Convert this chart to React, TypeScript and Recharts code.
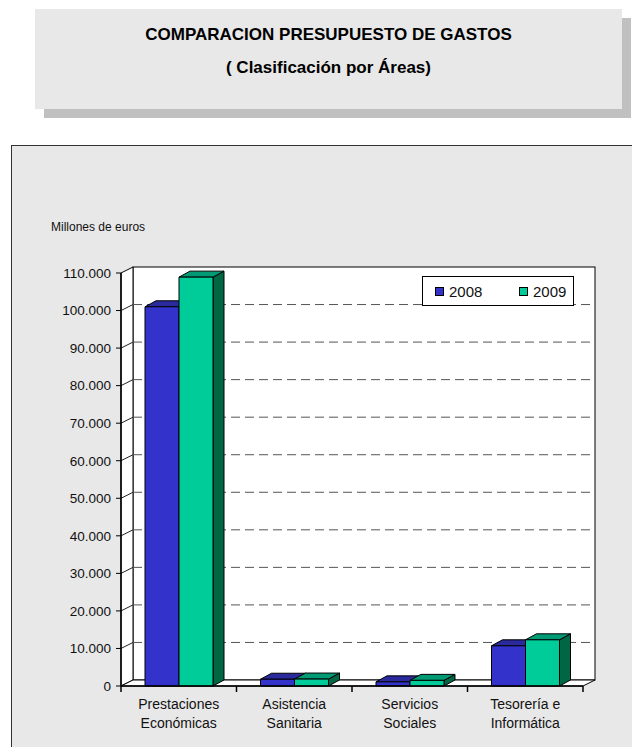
import React from "react";
import { BarChart, Bar, XAxis, YAxis, CartesianGrid } from "recharts";

const categories = ["Prestaciones\nEconómicas", "Asistencia\nSanitaria", "Servicios\nSociales", "Tesorería e\nInformática"];
const values2008 = [101000, 1800, 1100, 10700];
const values2009 = [108900, 1850, 1500, 12300];
const yTicks = [0, 10000, 20000, 30000, 40000, 50000, 60000, 70000, 80000, 90000, 100000, 110000];
const seriesNames = ["2008", "2009"];

const data = categories.map((c, i) => ({ name: c, y2008: values2008[i], y2009: values2009[i] }));

const FONT = "'Liberation Sans', Arial, sans-serif";
const W = 632;
const H = 747;
// front plane of the 3d plot
const PLOT_LEFT = 121;
const PLOT_TOP = 273;
const PLOT_RIGHT = 583;
const PLOT_BOTTOM = 686;
const PLOT_W = PLOT_RIGHT - PLOT_LEFT;
const PLOT_H = PLOT_BOTTOM - PLOT_TOP;
const DX = 12;
const DY = -6;
const Y_AXIS_W = 60;
const X_AXIS_H = 50;

const colors = {
  y2008: { front: "#3333cc", top: "#2a2a9c", side: "#1f1f80" },
  y2009: { front: "#00cc99", top: "#009b74", side: "#006644" },
};

const fmt = (v: number) => String(v).replace(/\B(?=(\d{3})+(?!\d))/g, ".");

const make3DBar = (c: { front: string; top: string; side: string }) => (props: any) => {
  const { x, y, width, height } = props;
  if (x == null || height == null) return null;
  const bx = 11;
  const by = -6;
  return (
    <g stroke="#000" strokeWidth={1} strokeLinejoin="round">
      <polygon
        points={`${x + width},${y} ${x + width + bx},${y + by} ${x + width + bx},${y + height + by} ${x + width},${y + height}`}
        fill={c.side}
      />
      <polygon points={`${x},${y} ${x + bx},${y + by} ${x + width + bx},${y + by} ${x + width},${y}`} fill={c.top} />
      <rect x={x} y={y} width={width} height={height} fill={c.front} />
    </g>
  );
};

const GridLine = (p: any) => {
  const { x1, y1, x2 } = p;
  if (Math.abs(y1 - PLOT_TOP) < 1 || Math.abs(y1 - PLOT_BOTTOM) < 1) return <g key={p.key} />;
  return (
    <g key={p.key}>
      <line x1={x1} y1={y1} x2={x1 + DX} y2={y1 + DY} stroke="#222" strokeWidth={1} />
      <line x1={x1 + DX} y1={y1 + DY} x2={x2 + DX} y2={y1 + DY} stroke="#555" strokeWidth={1} strokeDasharray="9 5" />
    </g>
  );
};

const CategoryTick = (props: any) => {
  const { x, y, payload, index } = props;
  const band = PLOT_W / categories.length;
  const lines = String(payload.value).split("\n");
  return (
    <g>
      <line x1={x - band / 2} y1={PLOT_BOTTOM} x2={x - band / 2} y2={PLOT_BOTTOM + 6} stroke="#000" strokeWidth={1.5} />
      {index === categories.length - 1 && (
        <line x1={x + band / 2} y1={PLOT_BOTTOM} x2={x + band / 2} y2={PLOT_BOTTOM + 6} stroke="#000" strokeWidth={1.5} />
      )}
      <text x={x} y={y + 15} textAnchor="middle" fontSize={14} fontFamily={FONT} fill="#111">
        {lines.map((l, i) => (
          <tspan key={i} x={x} dy={i === 0 ? 0 : 19}>
            {l}
          </tspan>
        ))}
      </text>
    </g>
  );
};

export default function App() {
  return (
    <div style={{ position: "absolute", left: 0, top: 0, width: W, height: H, overflow: "hidden", background: "#fff", fontFamily: FONT }}>
      {/* title box */}
      <div
        style={{
          position: "absolute",
          left: 35,
          top: 9,
          width: 587,
          height: 100,
          background: "#e8e8e8",
          boxShadow: "9px 9px 0 #c0c0c0",
        }}
      >
        <div style={{ position: "absolute", left: 0, right: 0, top: 16, textAlign: "center", fontWeight: "bold", fontSize: 17, lineHeight: "20px", color: "#000" }}>
          COMPARACION PRESUPUESTO DE GASTOS
        </div>
        <div style={{ position: "absolute", left: 0, right: 0, top: 49, textAlign: "center", fontWeight: "bold", fontSize: 17, lineHeight: "20px", color: "#000" }}>
          ( Clasificación por Áreas)
        </div>
      </div>

      {/* chart panel */}
      <div style={{ position: "absolute", left: 11, top: 145, width: 700, height: 700, background: "#e8e8e8", border: "1px solid #333" }} />

      <div style={{ position: "absolute", left: 51, top: 220, fontSize: 12, lineHeight: "14px", color: "#111" }}>Millones de euros</div>

      {/* walls of the 3d plot */}
      <svg width={W} height={H} style={{ position: "absolute", left: 0, top: 0 }}>
        <rect x={PLOT_LEFT + DX} y={PLOT_TOP + DY} width={PLOT_W} height={PLOT_H} fill="#fff" stroke="#000" strokeWidth={1} />
        <polygon
          points={`${PLOT_LEFT},${PLOT_TOP} ${PLOT_LEFT + DX},${PLOT_TOP + DY} ${PLOT_LEFT + DX},${PLOT_BOTTOM + DY} ${PLOT_LEFT},${PLOT_BOTTOM}`}
          fill="#fff"
          stroke="#000"
          strokeWidth={1}
        />
        <polygon
          points={`${PLOT_LEFT},${PLOT_BOTTOM} ${PLOT_RIGHT},${PLOT_BOTTOM} ${PLOT_RIGHT + DX},${PLOT_BOTTOM + DY} ${PLOT_LEFT + DX},${PLOT_BOTTOM + DY}`}
          fill="#fff"
          stroke="#000"
          strokeWidth={1}
        />
      </svg>

      <div style={{ position: "absolute", left: 0, top: 0 }}>
        <BarChart
          width={W}
          height={H}
          data={data}
          margin={{ top: PLOT_TOP, right: W - PLOT_RIGHT, left: PLOT_LEFT - Y_AXIS_W, bottom: H - PLOT_BOTTOM - X_AXIS_H }}
          barGap={0}
          barSize={34}
        >
          <CartesianGrid vertical={false} horizontal={GridLine} />
          <XAxis
            dataKey="name"
            height={X_AXIS_H}
            interval={0}
            tickLine={false}
            axisLine={{ stroke: "#000", strokeWidth: 1.5 }}
            tick={<CategoryTick />}
          />
          <YAxis
            width={Y_AXIS_W}
            domain={[0, 110000]}
            ticks={yTicks}
            interval={0}
            tickFormatter={fmt}
            tickSize={5}
            tickMargin={5}
            axisLine={{ stroke: "#000", strokeWidth: 1.5 }}
            tickLine={{ stroke: "#000", strokeWidth: 1 }}
            tick={{ fontSize: 13.5, fontFamily: FONT, fill: "#111" }}
          />
          <Bar dataKey="y2008" name={seriesNames[0]} isAnimationActive={false} shape={make3DBar(colors.y2008)} />
          <Bar dataKey="y2009" name={seriesNames[1]} isAnimationActive={false} shape={make3DBar(colors.y2009)} />
        </BarChart>
      </div>

      {/* legend */}
      <div
        style={{
          position: "absolute",
          left: 422,
          top: 276,
          width: 150,
          height: 28,
          background: "#fff",
          border: "1px solid #000",
          display: "flex",
          alignItems: "center",
          fontSize: 15,
          color: "#111",
        }}
      >
        {seriesNames.map((n, i) => (
          <div key={n} style={{ display: "flex", alignItems: "center", position: "absolute", left: i === 0 ? 12 : 96 }}>
            <span
              style={{
                display: "inline-block",
                width: 7,
                height: 7,
                border: "1px solid #000",
                background: i === 0 ? colors.y2008.front : colors.y2009.front,
                marginRight: 5,
              }}
            />
            <span>{n}</span>
          </div>
        ))}
      </div>
    </div>
  );
}
